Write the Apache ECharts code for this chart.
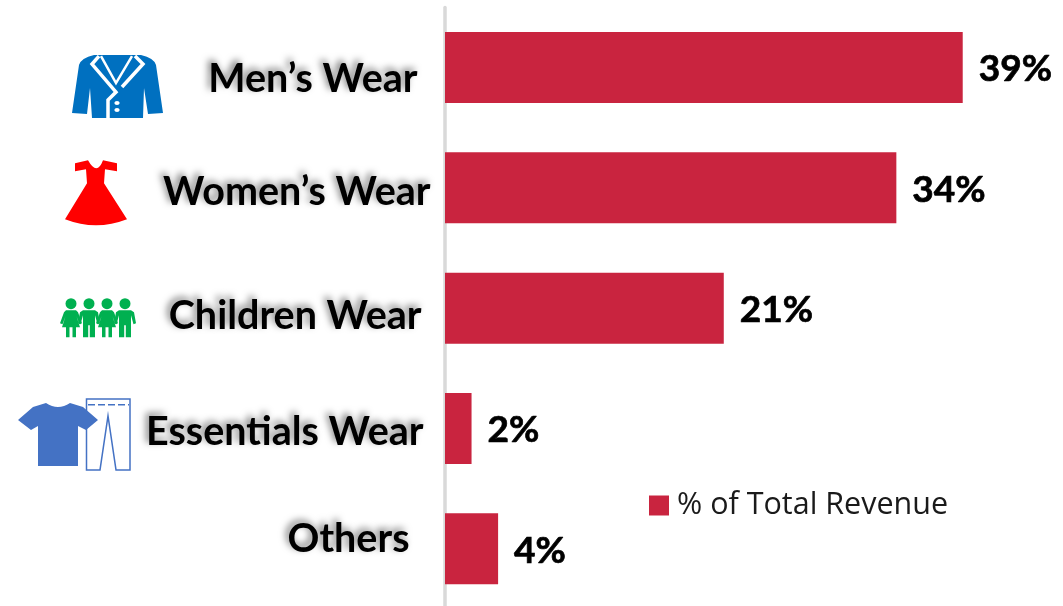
<!DOCTYPE html>
<html>
<head>
<meta charset="utf-8">
<style>html,body{margin:0;padding:0;background:#fff;overflow:hidden}#chart{width:1063px;height:612px}</style>
<script src="https://cdn.jsdelivr.net/npm/echarts@6/dist/echarts.min.js"></script>
</head>
<body>
<div id="chart"></div>
<script>
// Revenue share by apparel segment
const categories = ['Men’s Wear', 'Women’s Wear', 'Children Wear', 'Essentials Wear', 'Others'];
const revenueShare = [39, 34, 21, 2, 4];
const seriesName = '% of Total Revenue';

// Hand-placed category captions: gap from the axis and vertical shift from the bar centre
const captionGap = [18, 5, 14, 12, 26];
const captionShift = [12, 4.7, 8.5, 4, -9];

const BAR = '#C9243F';
const LABEL_FONT = 'Lato';

const captionRich = {};
categories.forEach((c, i) => {
  const s = captionShift[i];
  captionRich['c' + i] = {
    fontFamily: LABEL_FONT, fontWeight: 'bold', fontSize: 39.5, color: '#000',
    textShadowColor: 'rgba(0,0,0,0.5)', textShadowBlur: 7,
    textShadowOffsetX: -3, textShadowOffsetY: -3,
    padding: [s > 0 ? s * 2 : 0, captionGap[i], s < 0 ? -s * 2 : 0, 0]
  };
});

// Pictograms beside the captions; each is drawn in its own local space
function figure(x, girl) {
  const body = girl
    ? 'M-5,12 L5,12 L7,14 L11,25 L8.5,26 L5.5,18 L9,29 L5,29 L5,39 L1.5,39 L1.5,29 L-1.5,29 L-1.5,39 L-5,39 L-5,29 L-9,29 L-5.5,18 L-8.5,26 L-11,25 L-7,14 Z'
    : 'M-6,12 L6,12 L9,14 L11,25 L8.5,26 L6,17 L6,39 L0.8,39 L0.8,27 L-0.8,27 L-0.8,39 L-6,39 L-6,17 L-8.5,26 L-11,25 L-9,14 Z';
  return [
    { type: 'circle', x, shape: { cx: 0, cy: 5.5, r: 5.5 }, style: { fill: '#00B050' } },
    { type: 'path', x, shape: { pathData: body }, style: { fill: '#00B050' } }
  ];
}

const icons = [
  { dx: -373, dy: -12.5, parts: [
    { type: 'path', shape: { pathData: 'M0,58 L7,10 Q9,3 22,0 L69,0 Q82,3 84,10 L91,58 L76,59 L72,33 L71,63 L20,63 L18,33 L15,59 Z' }, style: { fill: '#0070C0' } },
    { type: 'path', shape: { pathData: 'M27,1 L20,9 L44,37 L36,45 L36,63' }, style: { fill: 'none', stroke: '#fff', lineWidth: 3.5 } },
    { type: 'path', shape: { pathData: 'M63,1 L71,9 L50,32' }, style: { fill: 'none', stroke: '#fff', lineWidth: 3.5 } },
    { type: 'path', shape: { pathData: 'M29,1 L44,28 L60,1' }, style: { fill: 'none', stroke: '#fff', lineWidth: 2.5 } },
    { type: 'ellipse', shape: { cx: 45, cy: 48, rx: 2.6, ry: 2 }, style: { fill: '#fff' } },
    { type: 'ellipse', shape: { cx: 45, cy: 55, rx: 2.6, ry: 2 }, style: { fill: '#fff' } }
  ] },
  { dx: -380, dy: -27.5, parts: [
    { type: 'path', shape: { pathData: 'M10,3 L23,0 Q32,16 38,0 L52,3 L52,11 L40,9 L39,23 L62,59 Q31,71 0,59 L22,23 L21,9 L10,11 Z' }, style: { fill: '#FF0000' } }
  ] },
  { dx: -385, dy: -10, parts: [
    ...figure(11, true), ...figure(29, false), ...figure(47, true), ...figure(65, false)
  ] },
  { dx: -427, dy: -25.5, parts: [
    { type: 'path', shape: { pathData: 'M68.5,-4 L112,-4 L112,67 L98,67 L90,13 L82,67 L68.5,67 Z' }, style: { fill: '#fff', stroke: '#4472C4', lineWidth: 1.5 } },
    { type: 'line', shape: { x1: 70, y1: 1.7, x2: 111, y2: 1.7 }, style: { stroke: '#4472C4', lineWidth: 1.5, lineDash: [7, 3] } },
    { type: 'path', shape: { pathData: 'M0,17 L15,4 L28,0 Q40,8 52,0 L65,4 L80,17 L68,27 L60,23 L60,63 L20,63 L20,23 L13,27 Z' }, style: { fill: '#4472C4' } }
  ] }
];

const chart = echarts.init(document.getElementById('chart'), null, { renderer: 'canvas' });
chart.setOption({
  animation: false,
  backgroundColor: '#fff',
  grid: { left: 445, top: 7.4, right: 87, bottom: 3.1, containLabel: false },
  legend: {
    data: [seriesName], left: 649, top: 490, padding: 0, icon: 'rect',
    itemWidth: 20, itemHeight: 20, itemGap: 8, selectedMode: false,
    textStyle: { fontFamily: 'Open Sans', fontSize: 30.5, color: '#1a1a1a', padding: [0, 0, 0, 3] }
  },
  xAxis: { type: 'value', min: 0, max: 40, show: false },
  yAxis: {
    type: 'category', inverse: true, data: categories, offset: 1.5,
    axisLine: { show: true, lineStyle: { color: '#D9D9D9', width: 3.5 } },
    axisTick: { show: false },
    axisLabel: {
      margin: 8, align: 'right', interval: 0,
      formatter: (v, i) => `{c${i}|${v}}`,
      rich: captionRich
    }
  },
  series: [
    {
      name: seriesName, type: 'bar', data: revenueShare, barCategoryGap: '41%',
      itemStyle: { color: BAR },
      label: {
        show: true, position: 'right', distance: 16, offset: [0, 2],
        formatter: '{c}%', fontFamily: LABEL_FONT, fontWeight: 'bold', fontSize: 37, color: '#000',
        textBorderColor: '#000', textBorderWidth: 0.7
      }
    },
    {
      type: 'custom', name: 'icons', silent: true, clip: false, z: 3,
      coordinateSystem: 'cartesian2d',
      data: icons.map((_, i) => [0, i]),
      encode: { x: 0, y: 1 },
      renderItem: (params, api) => {
        const icon = icons[params.dataIndex];
        const p = api.coord([0, api.value(1)]);
        return { type: 'group', x: p[0] + icon.dx, y: p[1] + icon.dy, children: icon.parts };
      }
    }
  ]
});
</script>
</body>
</html>
